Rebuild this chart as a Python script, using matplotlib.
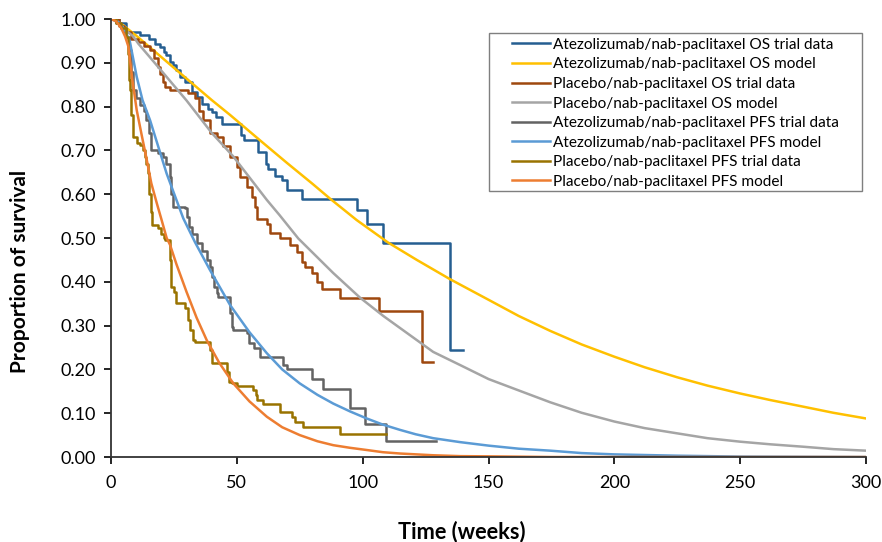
import numpy as np
import matplotlib
matplotlib.use('Agg')
import matplotlib.pyplot as plt
from matplotlib.patches import Rectangle

plt.rcParams['font.family'] = ['Lato', 'DejaVu Sans']

# Atezolizumab/nab-paclitaxel OS trial data (Kaplan-Meier steps)
atezo_os_t = [0, 3, 6, 11.5, 15, 17.5, 19.5, 21, 22, 23.4, 24.8, 26, 27.5, 29.4, 32, 34, 36, 38.7,
              40, 41.6, 44, 51.5, 53, 58.4, 61.5, 62.5, 65, 68, 70, 76, 97.6, 101.6, 108, 134.5, 140]
atezo_os_s = [1.0, 0.99, 0.97, 0.963, 0.955, 0.944, 0.936, 0.925, 0.917, 0.902, 0.894, 0.883, 0.868,
              0.856, 0.833, 0.822, 0.807, 0.795, 0.788, 0.776, 0.76, 0.735, 0.724, 0.697, 0.670, 0.657,
              0.641, 0.632, 0.61, 0.59, 0.564, 0.532, 0.488, 0.244, 0.244]

# Atezolizumab/nab-paclitaxel OS model
atezo_os_mt = [0, 2.5, 5.6, 10, 20, 30, 40, 47.3, 59.2, 70, 80, 87, 97.6, 110, 121.5, 134.7, 150,
               162, 174.5, 187, 200, 212, 225, 237, 250, 262, 275, 287, 300]
atezo_os_ms = [1.0, 0.996, 0.982, 0.962, 0.913, 0.864, 0.815, 0.781, 0.723, 0.671, 0.624, 0.59, 0.541,
               0.49, 0.45, 0.406, 0.359, 0.322, 0.288, 0.257, 0.229, 0.205, 0.182, 0.163, 0.145, 0.130,
               0.115, 0.101, 0.088]

# Placebo/nab-paclitaxel OS trial data
plac_os_t = [0, 3, 5, 8, 10.7, 13, 15.5, 17, 18.5, 19.5, 20.6, 21.3, 23.4, 30.6, 33.2, 35, 36.7, 39.3,
             42, 44.6, 47.3, 50, 51.3, 53.9, 55.9, 57.2, 57.9, 61.9, 63.2, 67, 71, 74, 76, 77, 80, 82,
             83.7, 91, 106.6, 123.4, 128]
plac_os_s = [1.0, 0.985, 0.97, 0.955, 0.947, 0.938, 0.93, 0.91, 0.89, 0.875, 0.856, 0.845, 0.837, 0.830,
             0.819, 0.79, 0.769, 0.74, 0.731, 0.709, 0.686, 0.663, 0.64, 0.617, 0.594, 0.571, 0.543,
             0.533, 0.511, 0.499, 0.484, 0.469, 0.446, 0.434, 0.419, 0.40, 0.384, 0.364, 0.333, 0.218,
             0.218]

# Placebo/nab-paclitaxel OS model
plac_os_mt = [0, 2.5, 5, 8.9, 10.8, 20, 30, 40, 48.6, 61.9, 67, 74.4, 88.3, 98.9, 108.2, 128, 138.7,
              150, 162, 174.5, 187, 200, 212, 225, 237, 250, 262, 275, 287, 300]
plac_os_ms = [1.0, 0.993, 0.978, 0.96, 0.944, 0.882, 0.814, 0.74, 0.686, 0.587, 0.552, 0.499, 0.42,
              0.364, 0.322, 0.24, 0.21, 0.178, 0.152, 0.125, 0.101, 0.081, 0.066, 0.054, 0.043, 0.035,
              0.029, 0.0235, 0.018, 0.0145]

# Atezolizumab/nab-paclitaxel PFS trial data
atezo_pfs_t = [0, 2, 4, 6, 7, 7.8, 8.7, 10, 11.5, 13, 14, 15, 16, 18.7, 20.7, 22, 23.4, 24, 24.6, 29.4,
               30, 31, 32.2, 34, 36, 38, 39.3, 40, 41, 42, 42.5, 47.3, 48, 48.5, 54, 55, 57, 59, 68.5,
               70, 79.7, 84.4, 95, 101, 109.3, 129]
atezo_pfs_s = [1.0, 0.99, 0.98, 0.96, 0.93, 0.88, 0.838, 0.82, 0.804, 0.79, 0.77, 0.74, 0.70, 0.694,
               0.685, 0.67, 0.64, 0.60, 0.571, 0.568, 0.549, 0.525, 0.51, 0.488, 0.47, 0.45, 0.434, 0.41,
               0.389, 0.374, 0.365, 0.329, 0.297, 0.29, 0.283, 0.26, 0.249, 0.228, 0.21, 0.201, 0.177,
               0.155, 0.113, 0.075, 0.0365, 0.0365]

# Atezolizumab/nab-paclitaxel PFS model
atezo_pfs_mt = [0, 2, 3.6, 5.5, 7.5, 10.2, 12.5, 15.5, 22.1, 28.7, 33.4, 39.3, 47.3, 55, 61.9, 68, 75,
                82, 88.3, 95, 101.6, 108, 114.8, 121, 128, 138.7, 150, 162, 174.5, 187, 200, 225, 250,
                275, 300]
atezo_pfs_ms = [1.0, 0.997, 0.99, 0.975, 0.948, 0.868, 0.815, 0.769, 0.647, 0.545, 0.49, 0.427, 0.347,
                0.285, 0.237, 0.2, 0.168, 0.142, 0.122, 0.104, 0.088, 0.074, 0.062, 0.052, 0.043, 0.034,
                0.026, 0.019, 0.0145, 0.009, 0.006, 0.003, 0.001, 0.0005, 0.0]

# Placebo/nab-paclitaxel PFS trial data
plac_pfs_t = [0, 2, 4, 6, 6.8, 7.2, 7.5, 8, 8.7, 10.3, 11.5, 12.5, 13.5, 14, 14.7, 15.2, 15.8, 16.3,
              18.5, 20, 21, 21.5, 23.4, 23.7, 24, 25, 26, 29.4, 30.5, 31.4, 32.5, 33.4, 39.3, 40, 46,
              47, 48, 50, 56.5, 57.5, 58, 60.5, 67, 71.8, 73, 76.4, 91, 109.3]
plac_pfs_s = [1.0, 0.99, 0.98, 0.96, 0.92, 0.86, 0.838, 0.78, 0.731, 0.716, 0.712, 0.70, 0.685, 0.67,
              0.648, 0.60, 0.56, 0.53, 0.523, 0.51, 0.50, 0.495, 0.45, 0.40, 0.389, 0.377, 0.351, 0.34,
              0.313, 0.29, 0.267, 0.263, 0.244, 0.214, 0.195, 0.172, 0.168, 0.163, 0.153, 0.142, 0.13,
              0.122, 0.103, 0.092, 0.081, 0.069, 0.052, 0.052]

# Placebo/nab-paclitaxel PFS model
plac_pfs_mt = [0, 2, 4, 5.6, 6.9, 8.5, 10.2, 12, 14.2, 16, 18.2, 20.1, 22.1, 23.4, 26, 30, 34, 38, 43,
               48.6, 55, 61.9, 68, 75, 82, 88.3, 95, 101.6, 108, 114.8, 128, 138.7, 150, 175, 200, 300]
plac_pfs_ms = [1.0, 0.995, 0.98, 0.96, 0.937, 0.86, 0.792, 0.74, 0.678, 0.625, 0.579, 0.541, 0.5,
               0.485, 0.44, 0.377, 0.318, 0.267, 0.215, 0.168, 0.127, 0.092, 0.068, 0.05, 0.036, 0.027,
               0.021, 0.016, 0.011, 0.008, 0.004, 0.002, 0.0015, 0.0, 0.0, 0.0]

fig = plt.figure(figsize=(8.82, 5.42), dpi=100)
ax = fig.add_axes([0.1259, 0.1568, 0.856, 0.8081])

lw = 1.8
ax.plot(atezo_os_t, atezo_os_s, drawstyle='steps-post', color='#255E91', lw=lw,
        label='Atezolizumab/nab-paclitaxel OS trial data')
ax.plot(atezo_os_mt, atezo_os_ms, color='#FFC000', lw=lw,
        label='Atezolizumab/nab-paclitaxel OS model')
ax.plot(plac_os_t, plac_os_s, drawstyle='steps-post', color='#9E480E', lw=lw,
        label='Placebo/nab-paclitaxel OS trial data')
ax.plot(plac_os_mt, plac_os_ms, color='#A5A5A5', lw=lw,
        label='Placebo/nab-paclitaxel OS model')
ax.plot(atezo_pfs_t, atezo_pfs_s, drawstyle='steps-post', color='#636363', lw=lw,
        label='Atezolizumab/nab-paclitaxel PFS trial data')
ax.plot(atezo_pfs_mt, atezo_pfs_ms, color='#5B9BD5', lw=lw,
        label='Atezolizumab/nab-paclitaxel PFS model')
ax.plot(plac_pfs_t, plac_pfs_s, drawstyle='steps-post', color='#997300', lw=lw,
        label='Placebo/nab-paclitaxel PFS trial data')
ax.plot(plac_pfs_mt, plac_pfs_ms, color='#ED7D31', lw=lw,
        label='Placebo/nab-paclitaxel PFS model')

ax.set_xlim(0, 300)
ax.set_ylim(0, 1.0)
ax.set_xticks(np.arange(0, 301, 50))
ax.set_yticks(np.arange(0, 1.01, 0.1))
ax.set_yticklabels(['%.2f' % v for v in np.arange(0, 1.01, 0.1)])
ax.tick_params(direction='out', length=5, width=1.2, labelsize=13, colors='black')
ax.tick_params(axis='y', pad=6)
ax.tick_params(axis='x', pad=8)
for side in ['top', 'right']:
    ax.spines[side].set_visible(False)
for side in ['left', 'bottom']:
    ax.spines[side].set_linewidth(1.3)
    ax.spines[side].set_color('#333333')

# axis titles placed where the reference has them
fig.text(462/882, 1-532/542, 'Time (weeks)', fontsize=15.7, fontweight='bold',
         ha='center', va='center')
fig.text(20/882, 1-271/542, 'Proportion of survival', fontsize=15, fontweight='bold',
         ha='center', va='center', rotation=90)

# legend box drawn by hand so the padding matches
ax.add_patch(Rectangle((0.5007, 0.607), 0.494, 0.361, transform=ax.transAxes,
                       facecolor='white', edgecolor='#7F7F7F', lw=1.0, zorder=5))
leg = ax.legend(loc='upper left', bbox_to_anchor=(0.531, 0.957), fontsize=11.1,
                handlelength=2.45, handletextpad=0.2, labelspacing=0.36, borderpad=0,
                frameon=False, borderaxespad=0)
leg.set_zorder(6)

fig.savefig('out.png', dpi=100)
